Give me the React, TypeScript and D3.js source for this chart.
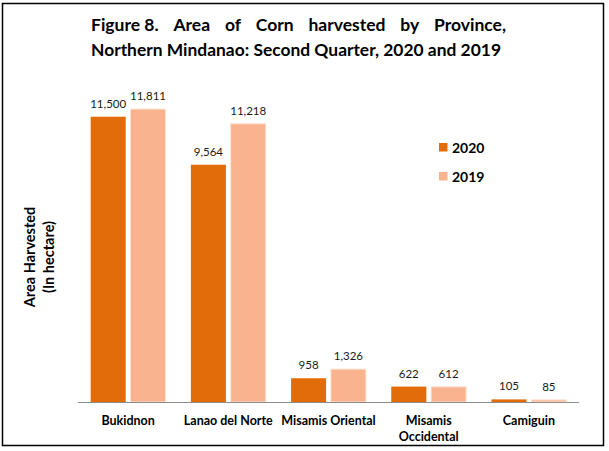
import React, { useLayoutEffect, useRef, useState } from "react";
import * as d3 from "d3";

const categories = ["Bukidnon", "Lanao del Norte", "Misamis Oriental", "Misamis Occidental", "Camiguin"];
const seriesNames = ["2020", "2019"];
const values2020 = [11500, 9564, 958, 622, 105];
const values2019 = [11811, 11218, 1326, 612, 85];
const titleLine1Words = ["Figure 8.", "Area", "of", "Corn", "harvested", "by", "Province,"];
const titleLine2 = "Northern Mindanao: Second Quarter, 2020 and 2019";
const yTitleLines = ["Area Harvested", "(In hectare)"];

const W = 609;
const H = 451;
const FONT = "Lato, 'Open Sans', sans-serif";
const colors: Record<string, string> = { "2020": "#E36C0A", "2019": "#F9B48F" };

export default function App() {
  const seriesValues: Record<string, number[]> = { "2020": values2020, "2019": values2019 };
  const x0 = d3.scaleBand<string>().domain(categories).range([78, 579]).paddingInner(0).paddingOuter(0);
  const step = x0.step();
  const x1 = d3
    .scaleBand<string>()
    .domain(seriesNames)
    .range([step * 0.1265, step * 0.8735])
    .paddingInner(0.12)
    .paddingOuter(0);
  const y = d3.scaleLinear().domain([0, 14000]).range([402, 54.7]);
  const fmt = d3.format(",");

  const wordRefs = useRef<(SVGTextElement | null)[]>([]);
  const line2Ref = useRef<SVGTextElement | null>(null);
  const [wordX, setWordX] = useState<number[] | null>(null);
  const [l2Len, setL2Len] = useState<number | null>(null);
  const L1_START = 91;
  const L1_END = 506;
  const L2_END = 501;

  useLayoutEffect(() => {
    const widths = wordRefs.current.map((el) => (el ? el.getComputedTextLength() : 0));
    const total = widths.reduce((a, b) => a + b, 0);
    const gap = (L1_END - L1_START - total) / (widths.length - 1);
    const xs: number[] = [];
    let cur = L1_START;
    widths.forEach((w) => {
      xs.push(cur);
      cur += w + gap;
    });
    setWordX(xs);
    if (line2Ref.current) {
      const natural = line2Ref.current.getComputedTextLength();
      const target = L2_END - L1_START;
      if (Math.abs(natural - target) > 2) setL2Len(target);
    }
  }, []);

  const wrapLabel = (s: string) => (s.length > 16 ? s.split(" ") : [s]);

  return (
    <svg
      width={W}
      height={H}
      style={{ position: "fixed", left: 0, top: 0, display: "block", background: "#fff" }}
      fontFamily={FONT}
    >
      <rect x={0} y={0} width={W} height={H} fill="#fff" />
      <rect x={2.5} y={3.5} width={601} height={442} fill="none" stroke="#000" strokeWidth={1.5} />

      {/* Title */}
      <g fontWeight="bold" fontSize={17.5} fill="#000">
        {titleLine1Words.map((w, i) => (
          <text
            key={i}
            ref={(el) => {
              wordRefs.current[i] = el;
            }}
            x={wordX ? wordX[i] : L1_START + i * 55}
            y={31}
          >
            {w}
          </text>
        ))}
        <text
          ref={line2Ref}
          x={L1_START}
          y={55.5}
          {...(l2Len ? { textLength: l2Len, lengthAdjust: "spacingAndGlyphs" } : {})}
        >
          {titleLine2}
        </text>
      </g>

      {/* Y axis title */}
      <g fontWeight="bold" fontSize={14.5} fill="#000">
        {yTitleLines.map((t, i) => (
          <text
            key={i}
            transform={`translate(${35 + i * 19},257) rotate(-90)`}
            textAnchor="middle"
          >
            {t}
          </text>
        ))}
      </g>

      {/* Bars */}
      {categories.map((c, ci) => (
        <g key={c} transform={`translate(${x0(c)},0)`}>
          {seriesNames.map((s) => {
            const v = seriesValues[s][ci];
            const bx = x1(s)!;
            const bw = x1.bandwidth();
            return (
              <g key={s}>
                <rect
                  x={bx}
                  y={y(v)}
                  width={bw}
                  height={y(0) - y(v)}
                  fill={colors[s]}
                  stroke={s === "2019" ? "#FCE3D3" : "none"}
                  strokeWidth={1}
                />
                <text
                  x={bx + bw / 2}
                  y={y(v) - 9}
                  textAnchor="middle"
                  fontSize={11.5}
                  fill="#1a1a1a"
                >
                  {fmt(v)}
                </text>
              </g>
            );
          })}
        </g>
      ))}

      {/* X axis line */}
      <line x1={78} x2={579} y1={402.5} y2={402.5} stroke="#8C8C8C" strokeWidth={1.2} />

      {/* Category labels */}
      <g fontWeight="bold" fontSize={12.5} fill="#000">
        {categories.map((c) => {
          const lines = wrapLabel(c);
          return (
            <text key={c} x={x0(c)! + step / 2} y={424.5} textAnchor="middle">
              {lines.map((l, li) => (
                <tspan key={li} x={x0(c)! + step / 2} dy={li === 0 ? 0 : 16}>
                  {l}
                </tspan>
              ))}
            </text>
          );
        })}
      </g>

      {/* Legend */}
      <g>
        {seriesNames.map((s, i) => (
          <g key={s} transform={`translate(439,${143 + i * 29})`}>
            <rect x={0} y={0} width={8.5} height={8.5} fill={colors[s]} />
            <text x={13} y={9.5} fontWeight="bold" fontSize={14} fill="#000">
              {s}
            </text>
          </g>
        ))}
      </g>
    </svg>
  );
}
